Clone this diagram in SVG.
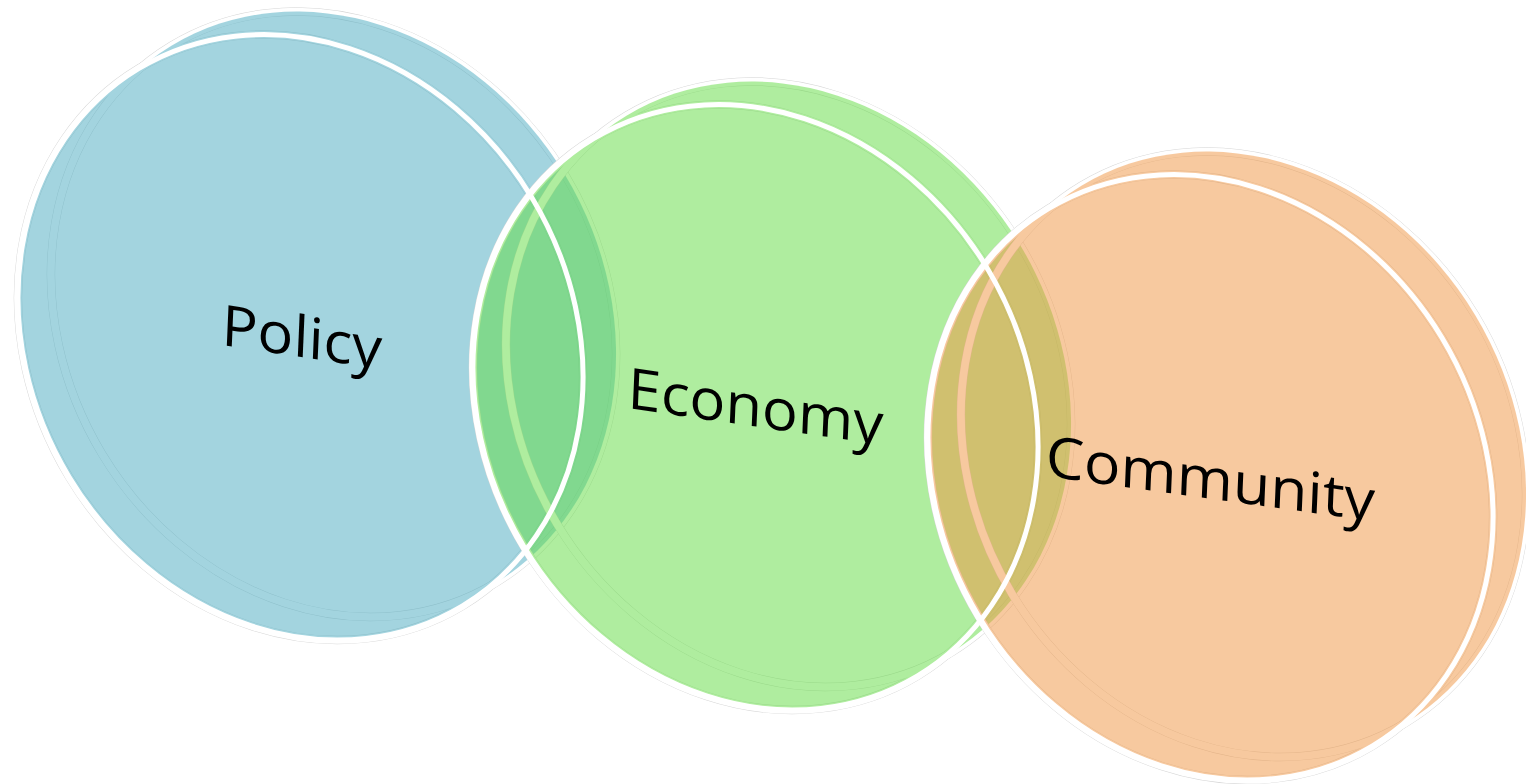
<svg xmlns="http://www.w3.org/2000/svg" xmlns:xlink="http://www.w3.org/1999/xlink" width="1526" height="784" viewBox="0 0 1526 784">
  <style>
    .hair { fill: none; stroke: #d6d6d6; stroke-width: 8.4; }
    .band { fill: none; stroke: #ffffff; stroke-width: 7.6; }
    .fill { opacity: 0.5; }
    .rim { fill: none; stroke: #ffffff; stroke-width: 5; }
    .label { font-family: "Open Sans", "Noto Sans", "Liberation Sans", sans-serif; font-style: normal; font-weight: 500; font-size: 57px; fill: #000000; }
  </style>
  <defs>
    <ellipse id="eA" cx="0" cy="0" rx="313.7" ry="270.3" transform="translate(300.5 337.3) rotate(58.9)"/>
    <ellipse id="eB" cx="0" cy="0" rx="313.7" ry="270.3" transform="translate(333.5 314.3) rotate(58.9)"/>
  </defs>
  <rect width="1526" height="784" fill="#ffffff"/>

  <g id="policy">
    <use xlink:href="#eA" class="hair"/>
    <use xlink:href="#eB" class="hair"/>
    <use xlink:href="#eA" class="band"/>
    <use xlink:href="#eB" class="band"/>
    <g class="fill" fill="rgb(73,171,193)">
      <use xlink:href="#eA"/>
      <use xlink:href="#eB"/>
    </g>
  </g>

  <g id="economy" transform="translate(455 70)">
    <use xlink:href="#eA" class="hair"/>
    <use xlink:href="#eB" class="hair"/>
    <use xlink:href="#eA" class="band"/>
    <use xlink:href="#eB" class="band"/>
    <g class="fill" fill="rgb(97,221,65)">
      <use xlink:href="#eA"/>
      <use xlink:href="#eB"/>
    </g>
  </g>

  <g id="community" transform="translate(910 140)">
    <use xlink:href="#eA" class="hair"/>
    <use xlink:href="#eB" class="hair"/>
    <use xlink:href="#eA" class="band"/>
    <use xlink:href="#eB" class="band"/>
    <g class="fill" fill="rgb(241,149,65)">
      <use xlink:href="#eA"/>
      <use xlink:href="#eB"/>
    </g>
  </g>

  <g id="rims">
    <use xlink:href="#eA" class="rim"/>
    <use xlink:href="#eA" class="rim" transform="translate(455 70)"/>
    <use xlink:href="#eA" class="rim" transform="translate(910 140)"/>
  </g>

  <g id="labels">
    <text class="label" transform="matrix(0.989 0.148 -0.042 0.999 221 345)" textLength="162" lengthAdjust="spacingAndGlyphs">Policy</text>
    <text class="label" transform="matrix(0.990 0.143 -0.042 0.999 627 408)" textLength="258" lengthAdjust="spacingAndGlyphs">Economy</text>
    <text class="label" transform="matrix(0.991 0.136 -0.042 0.999 1045 476)" textLength="332" lengthAdjust="spacingAndGlyphs">Community</text>
  </g>
</svg>
